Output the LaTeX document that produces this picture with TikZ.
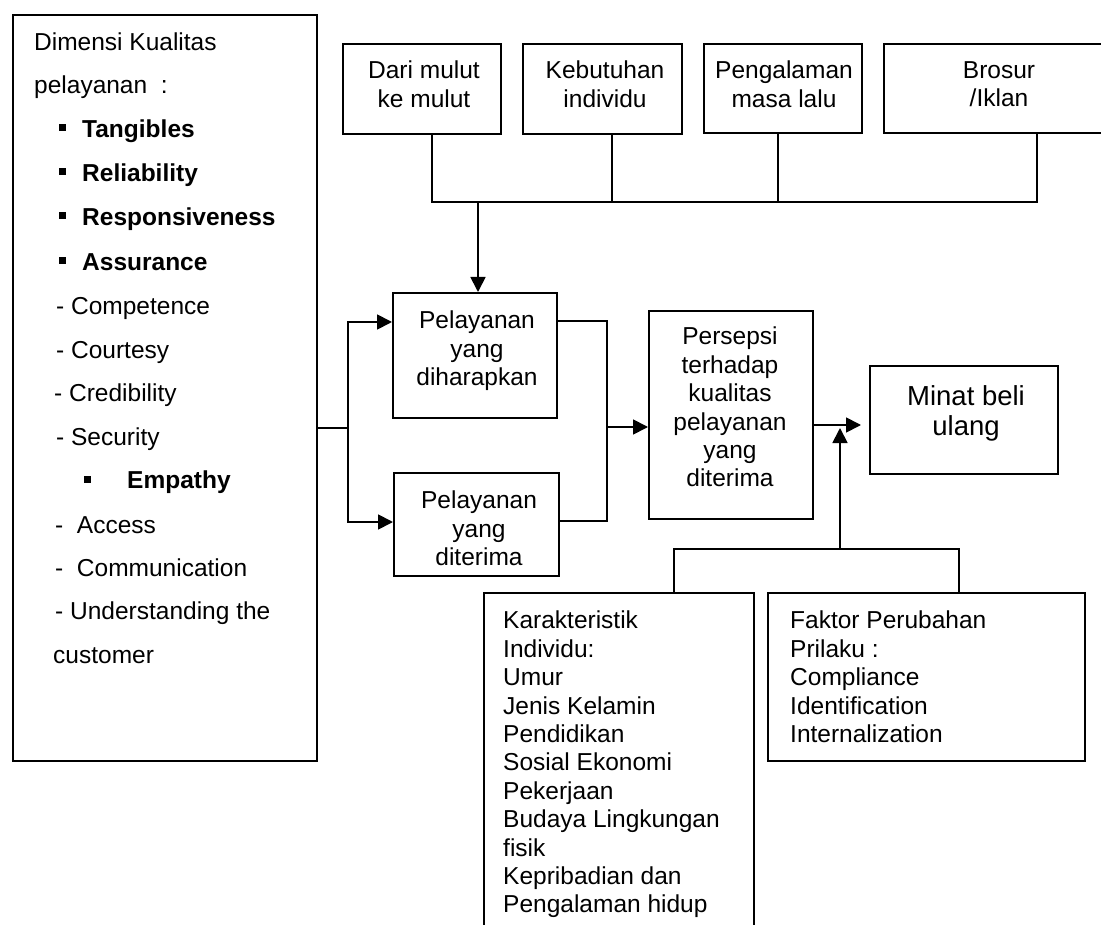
\documentclass[tikz,border=0pt]{standalone}
\usepackage{fontspec}
\setmainfont{Liberation Sans}
\usetikzlibrary{arrows.meta}
\newcommand\myfs{\fontsize{24.5}{28.4}\selectfont}
\newcommand\myfbig{\fontsize{27.5}{30}\selectfont}
\begin{document}
\begin{tikzpicture}[x=1pt,y=-1pt,
  bx/.style={draw, line width=1.8pt, inner sep=0pt, anchor=north west},
  ctxt/.style={font=\myfs, inner sep=0pt, align=center, anchor=north},
  ltxt/.style={font=\myfs, inner sep=0pt, align=left, anchor=north west},
  ln/.style={font=\myfs, inner sep=0pt, anchor=west, text height=17.5pt, text depth=0pt},
  bul/.style={fill, inner sep=0pt, minimum size=7pt},
  conn/.style={line width=1.8pt},
  arr/.style={conn, -{Triangle[length=15pt,width=15pt]}}]
\useasboundingbox (0,0) rectangle (1101,925);

% boxes
\node[bx, minimum width=304pt, minimum height=746pt] (lb) at (12,14) {};
\node[bx, minimum width=158pt, minimum height=90pt] (t1) at (342,43) {};
\node[bx, minimum width=159pt, minimum height=90pt] (t2) at (522,43) {};
\node[bx, minimum width=158pt, minimum height=89pt] (t3) at (703,43) {};
\node[bx, minimum width=230pt, minimum height=89pt] (t4) at (883,43) {};
\node[bx, minimum width=164pt, minimum height=125pt] (ph) at (392,292) {};
\node[bx, minimum width=165pt, minimum height=103pt] (pd) at (393,472) {};
\node[bx, minimum width=164pt, minimum height=208pt] (ps) at (648,310) {};
\node[bx, minimum width=188pt, minimum height=108pt] (mb) at (869,365) {};
\node[bx, minimum width=270pt, minimum height=360pt] (ki) at (483,592) {};
\node[bx, minimum width=317pt, minimum height=168pt] (fp) at (767,592) {};

% box texts
\node[ctxt] (t1t) at (424,61) {Dari mulut\\ke mulut};
\node[ctxt] (t2t) at (605,61) {Kebutuhan\\individu};
\node[ctxt] (t3t) at (784,61) {Pengalaman\\masa lalu};
\node[ctxt] (t4t) at (999,61) {Brosur\\/Iklan};
\node[ctxt] (pht) at (477,311) {Pelayanan\\yang\\diharapkan};
\node[ctxt] (pdt) at (479,491) {Pelayanan\\yang\\diterima};
\node[ctxt] (pst) at (730,327) {Persepsi\\terhadap\\kualitas\\pelayanan\\yang\\diterima};
\node[ctxt, font=\myfbig] (mbt) at (966,385) {Minat beli\\ulang};
\node[ltxt] (kit) at (503,611) {Karakteristik\\Individu:\\Umur\\Jenis Kelamin\\Pendidikan\\Sosial Ekonomi\\Pekerjaan\\Budaya Lingkungan\\fisik\\Kepribadian dan\\Pengalaman hidup};
\node[ltxt] (fpt) at (790,611) {Faktor Perubahan\\Prilaku :\\Compliance\\Identification\\Internalization};

% left box list
\node[ln] (l1) at (34,42) {Dimensi Kualitas};
\node[ln] (l2) at (34,85) {pelayanan\ \ :};
\node[bul] (b1) at (62,128) {};
\node[ln, font=\myfs\bfseries] (l3) at (82,129) {Tangibles};
\node[bul] (b2) at (62,172) {};
\node[ln, font=\myfs\bfseries] (l4) at (82,173) {Reliability};
\node[bul] (b3) at (62,216) {};
\node[ln, font=\myfs\bfseries] (l5) at (82,217) {Responsiveness};
\node[bul] (b4) at (62,261) {};
\node[ln, font=\myfs\bfseries] (l6) at (82,262) {Assurance};
\node[ln] (l7) at (56,306) {- Competence};
\node[ln] (l8) at (56,350) {- Courtesy};
\node[ln] (l9) at (54,393) {- Credibility};
\node[ln] (l10) at (56,437) {- Security};
\node[bul] (b5) at (87,479) {};
\node[ln, font=\myfs\bfseries] (l11) at (127,480) {Empathy};
\node[ln] (l12) at (55,525) {-\ \ Access};
\node[ln] (l13) at (55,568) {-\ \ Communication};
\node[ln] (l14) at (55,611) {- Understanding the};
\node[ln] (l15) at (53,655) {customer};

% junction coordinates
\coordinate (j1) at (432,202);
\coordinate (j2) at (612,202);
\coordinate (j3) at (778,202);
\coordinate (j4) at (1037,202);
\coordinate (ja) at (478,202);
\coordinate (f) at (348,428);
\coordinate (fa) at (348,322);
\coordinate (fb) at (348,522);
\coordinate (m1) at (607,321);
\coordinate (m2) at (607,521);
\coordinate (m) at (607,427);
\coordinate (pm) at (812,425);
\coordinate (u) at (840,549);
\coordinate (uL) at (674,549);
\coordinate (uR) at (959,549);

% connectors
\draw[conn] (t1.south -| j1) -- (j1) -- (j4) -- (t4.south -| j4);
\draw[conn] (t2.south -| j2) -- (j2);
\draw[conn] (t3.south -| j3) -- (j3);
\draw[arr] (ja) -- (ja |- ph.north);
\draw[conn] (lb.east |- f) -- (f);
\draw[arr] (f) -- (fa) -- (fa -| ph.west);
\draw[arr] (f) -- (fb) -- (fb -| pd.west);
\draw[conn] (m1 -| ph.east) -- (m1) -- (m2) -- (m2 -| pd.east);
\draw[arr] (m) -- (m -| ps.west);
\draw[arr, shorten >=8pt] (pm -| ps.east) -- (pm -| mb.west);
\draw[conn] (uL |- ki.north) -- (uL) -- (uR) -- (uR |- fp.north);
\draw[arr, shorten >=3pt] (u) -- (u |- pm);
\end{tikzpicture}
\end{document}
